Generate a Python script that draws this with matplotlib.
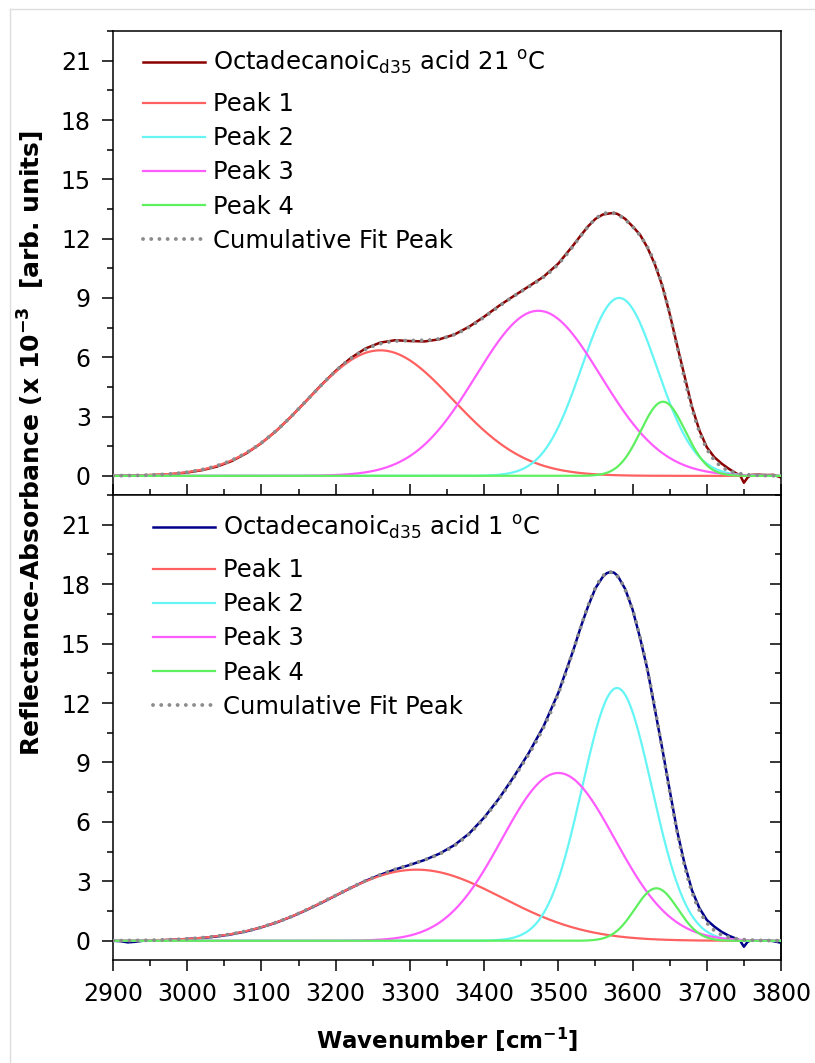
import numpy as np
import matplotlib.pyplot as plt
from matplotlib.ticker import MultipleLocator

plt.rcParams['font.family'] = ['DejaVu Sans']
plt.rcParams['mathtext.fontset'] = 'dejavusans'

top_wn = [2900, 2920, 2940, 2960, 2980, 3000, 3020, 3040, 3060, 3080, 3100,
          3120, 3140, 3160, 3180, 3200, 3220, 3240, 3260, 3280, 3300, 3320,
          3340, 3360, 3380, 3400, 3420, 3440, 3460, 3480, 3500, 3520, 3530,
          3540, 3550, 3560, 3570, 3575, 3580, 3590, 3600, 3610, 3620, 3630,
          3640, 3650, 3660, 3670, 3680, 3690, 3700, 3710, 3720, 3730, 3740,
          3745, 3750, 3755, 3760, 3770, 3780, 3790, 3800]
top_meas = [0.00, 0.02, 0.03, 0.05, 0.09, 0.17, 0.29, 0.47, 0.75, 1.15, 1.66,
            2.28, 3.00, 3.78, 4.57, 5.31, 5.95, 6.44, 6.74, 6.86, 6.82, 6.80,
            6.91, 7.15, 7.55, 8.05, 8.60, 9.10, 9.58, 10.07, 10.74, 11.66, 12.15,
            12.62, 13.00, 13.22, 13.28, 13.30, 13.24, 13.00, 12.62, 12.20, 11.55, 10.70,
            9.62, 8.20, 6.60, 5.05, 3.50, 2.30, 1.45, 0.95, 0.62, 0.35, 0.12,
            0.02, -0.35, -0.08, 0.05, 0.06, 0.04, 0.05, -0.08]

# measured spectrum, 1 C
bot_wn = [2900, 2910, 2920, 2930, 2940, 2960, 2980, 3000, 3020, 3040, 3060,
          3080, 3100, 3120, 3140, 3160, 3180, 3200, 3220, 3240, 3260, 3280,
          3300, 3320, 3340, 3360, 3380, 3400, 3420, 3440, 3460, 3480, 3500,
          3520, 3530, 3540, 3550, 3560, 3565, 3570, 3575, 3580, 3590, 3600,
          3610, 3620, 3630, 3640, 3650, 3660, 3670, 3680, 3690, 3700, 3710,
          3720, 3730, 3740, 3745, 3750, 3755, 3760, 3770, 3780, 3790, 3800]
bot_meas = [0.00, -0.02, -0.08, -0.05, 0.00, 0.02, 0.05, 0.09, 0.14, 0.22, 0.33,
            0.48, 0.68, 0.92, 1.21, 1.54, 1.90, 2.28, 2.66, 3.02, 3.33, 3.60,
            3.83, 4.08, 4.40, 4.83, 5.42, 6.22, 7.18, 8.28, 9.47, 10.82, 12.52,
            14.65, 15.82, 16.88, 17.80, 18.38, 18.55, 18.62, 18.58, 18.42, 17.76, 16.72,
            15.30, 13.70, 11.70, 9.70, 7.60, 5.55, 3.90, 2.55, 1.65, 1.05, 0.72,
            0.45, 0.25, 0.10, 0.00, -0.30, -0.05, 0.03, 0.00, 0.03, -0.02, -0.10]

# peak fit parameters: centre [cm-1], height, sigma [cm-1]
top_centres = [3260, 3582, 3473, 3641]
top_heights = [6.35, 9.0, 8.35, 3.75]
top_sigmas = [98, 51, 84, 30]

bot_centres = [3309, 3579, 3500, 3632]
bot_heights = [3.59, 12.76, 8.47, 2.65]
bot_sigmas = [115, 47, 76, 29]

peak_colors = ['#ff6060', '#66f5f5', '#ff5cff', '#5ef05e']
peak_names = ['Peak 1', 'Peak 2', 'Peak 3', 'Peak 4']

wn = np.linspace(2900, 3800, 901)


def gauss(x, c, h, s):
    return h * np.exp(-0.5 * ((x - c) / s) ** 2)


def panel(ax, mwn, meas, centres, heights, sigmas, meas_color, meas_label,
          leg_x, leg_y1, leg_y2):
    peaks = [gauss(wn, c, h, s) for c, h, s in zip(centres, heights, sigmas)]
    cum = np.sum(peaks, axis=0)
    ax.plot(mwn, meas, color=meas_color, lw=1.8, label=meas_label, zorder=2)
    for p, col, name in zip(peaks, peak_colors, peak_names):
        ax.plot(wn, p, color=col, lw=1.6, label=name, zorder=3)
    ax.plot(wn, cum, color='#8c8c8c', lw=2.8, ls=(0, (0.01, 2.1)),
            dash_capstyle='round', label='Cumulative Fit Peak', zorder=4)
    ax.set_xlim(2900, 3800)
    ax.set_ylim(-0.97, 22.5)
    ax.yaxis.set_major_locator(MultipleLocator(3))
    ax.yaxis.set_minor_locator(MultipleLocator(1.5))
    ax.xaxis.set_major_locator(MultipleLocator(100))
    ax.xaxis.set_minor_locator(MultipleLocator(50))
    for s in ax.spines.values():
        s.set_linewidth(1.1)
    ax.tick_params(axis='both', labelsize=17, width=1.1)
    ax.tick_params(which='major', length=8)
    ax.tick_params(which='minor', length=4.5, width=1.1)
    ax.tick_params(axis='y', which='both', direction='out', left=True,
                   right=False, pad=8)

    h, l = ax.get_legend_handles_labels()
    opts = dict(loc='upper left', frameon=False, fontsize=17.5,
                handlelength=2.55, handletextpad=0.33, labelspacing=0.42,
                borderaxespad=0, borderpad=0)
    leg1 = ax.legend(h[:1], l[:1], bbox_to_anchor=(leg_x, leg_y1), **opts)
    ax.add_artist(leg1)
    ax.legend(h[1:], l[1:], bbox_to_anchor=(leg_x, leg_y2), **opts)


fig = plt.figure(figsize=(8.15, 10.63), dpi=100)
ax1 = fig.add_axes([0.1387, 0.5343, 0.8196, 0.4365])
ax2 = fig.add_axes([0.1387, 0.0969, 0.8196, 0.4374])

panel(ax1, top_wn, top_meas, top_centres, top_heights, top_sigmas, '#8b0000',
      r'Octadecanoic$_{\mathrm{d35}}$ acid 21 $^{\mathrm{o}}$C',
      0.0449, 0.961, 0.8685)
panel(ax2, bot_wn, bot_meas, bot_centres, bot_heights, bot_sigmas, '#00008b',
      r'Octadecanoic$_{\mathrm{d35}}$ acid 1 $^{\mathrm{o}}$C',
      0.0599, 0.959, 0.8645)

ax1.tick_params(axis='x', which='both', direction='in', bottom=True, top=False,
                labelbottom=False)
ax2.tick_params(axis='x', which='both', direction='out', bottom=True, top=False,
                pad=8)

# inward ticks on the right of the lower panel
sec = ax2.secondary_yaxis('right')
sec.yaxis.set_major_locator(MultipleLocator(3))
sec.yaxis.set_minor_locator(MultipleLocator(1.5))
sec.tick_params(which='both', direction='in', labelright=False, width=1.1)
sec.tick_params(which='major', length=8)
sec.tick_params(which='minor', length=4.5)
sec.spines['right'].set_linewidth(1.1)

ax2.set_xlabel(r'Wavenumber [cm$^{\mathbf{-1}}$]', fontsize=16.5,
               fontweight='bold', labelpad=14)
fig.text(0.039, 0.583, r'Reflectance-Absorbance (x 10$^{\mathbf{-3}}$  [arb. units]',
         rotation=90, ha='center', va='center', fontsize=18, fontweight='bold')

fig.add_artist(plt.Line2D([10 / 815, 10 / 815], [0, 1 - 9 / 1063],
                          color='#dddddd', lw=1))
fig.add_artist(plt.Line2D([10 / 815, 1], [1 - 9 / 1063, 1 - 9 / 1063],
                          color='#dddddd', lw=1))

fig.savefig('out.png', dpi=100)
